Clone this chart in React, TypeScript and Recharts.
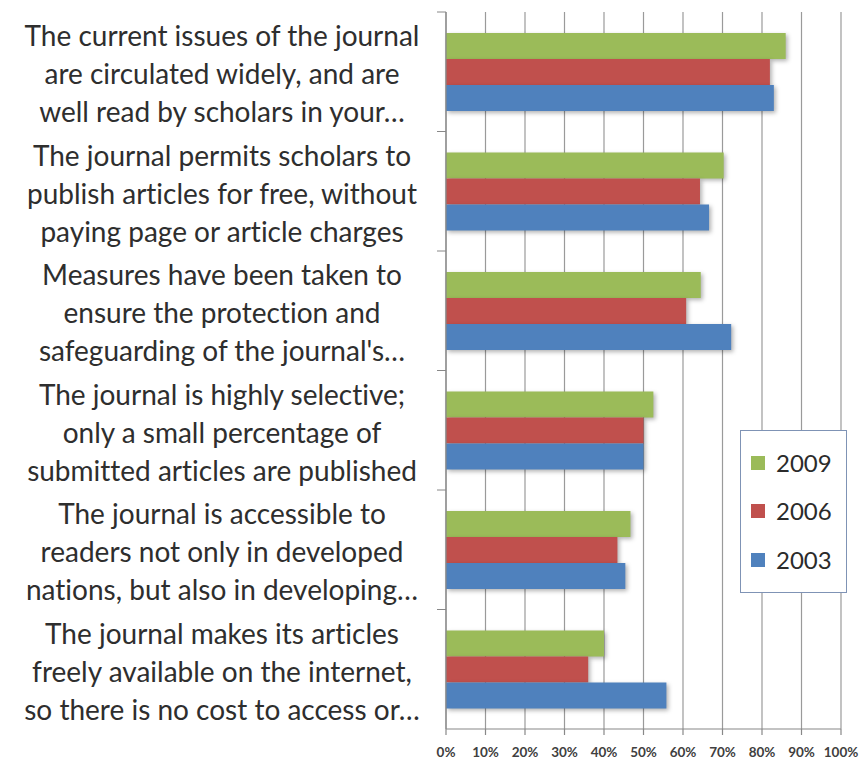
import React from "react";
import { BarChart, Bar, XAxis, YAxis, CartesianGrid, Legend } from "recharts";

const categories = [
  "The current issues of the journal\nare circulated widely, and are\nwell read by scholars in your…",
  "The journal permits scholars to\npublish articles for free, without\npaying page or article charges",
  "Measures have been taken to\nensure the protection and\nsafeguarding of the journal's…",
  "The journal is highly selective;\nonly a small percentage of\nsubmitted articles are published",
  "The journal is accessible to\nreaders not only in developed\nnations, but also in developing…",
  "The journal makes its articles\nfreely available on the internet,\nso there is no cost to access or…",
];

const values2009 = [86, 70.3, 64.5, 52.5, 46.7, 40];
const values2006 = [82, 64.3, 60.8, 50, 43.4, 36];
const values2003 = [83, 66.6, 72.2, 50, 45.4, 55.8];

const seriesNames = ["2009", "2006", "2003"];
const seriesColors = ["#9BBB59", "#C0504D", "#4F81BD"];

const xTicks = [0, 10, 20, 30, 40, 50, 60, 70, 80, 90, 100];

const data = categories.map((name, i) => ({
  name,
  y2009: values2009[i],
  y2006: values2006[i],
  y2003: values2003[i],
}));

const W = 859;
const H = 774;
const PLOT_LEFT = 446;
const PLOT_RIGHT = 841;
const PLOT_TOP = 12;
const PLOT_BOTTOM = 729;
const BAND = (PLOT_BOTTOM - PLOT_TOP) / categories.length;
const FONT = "Lato, 'Open Sans', sans-serif";

const YTick = (props: any) => {
  const { y, payload } = props;
  const lines = String(payload.value).split("\n");
  const cx = PLOT_LEFT - 224;
  return (
    <g>
      <line x1={PLOT_LEFT - 9} x2={PLOT_LEFT} y1={y - BAND / 2} y2={y - BAND / 2} stroke="#888" strokeWidth={1} />
      {lines.map((ln, k) => (
        <text
          key={k}
          x={cx}
          y={y + 1.5 + (k - 1) * 38}
          textAnchor="middle"
          dominantBaseline="central"
          fontFamily={FONT}
          fontSize={28}
          fill="#2e2e2e"
          style={{ fontVariantLigatures: "none" }}
        >
          {ln}
        </text>
      ))}
    </g>
  );
};

const LegendContent = () => (
  <div
    style={{
      width: 107,
      height: 163,
      border: "1.5px solid #7f93b5",
      background: "#fff",
      boxSizing: "border-box",
      display: "flex",
      flexDirection: "column",
      justifyContent: "space-around",
      padding: "8px 0",
      fontFamily: FONT,
    }}
  >
    {seriesNames.map((n, i) => (
      <div key={n} style={{ display: "flex", alignItems: "center", paddingLeft: 10 }}>
        <span style={{ display: "inline-block", width: 14, height: 14, background: seriesColors[i], marginRight: 11 }} />
        <span style={{ fontSize: 24, color: "#2b2b2b", lineHeight: "24px" }}>{n}</span>
      </div>
    ))}
  </div>
);

export default function App() {
  return (
    <div style={{ position: "absolute", left: 0, top: 0, width: W, height: H, background: "#fff" }}>
      <BarChart
        width={W}
        height={H}
        data={data}
        layout="vertical"
        margin={{ top: PLOT_TOP, right: W - PLOT_RIGHT, bottom: 0, left: 0 }}
        barGap={0}
      >
        <CartesianGrid horizontal={false} vertical={true} stroke="#9a9a9a" strokeWidth={1.2} />
        <XAxis
          type="number"
          domain={[0, 100]}
          ticks={xTicks}
          tickFormatter={(v: number) => `${v}%`}
          height={H - PLOT_BOTTOM}
          axisLine={{ stroke: "#888", strokeWidth: 1.2 }}
          tickLine={{ stroke: "#888", strokeWidth: 1.2 }}
          tickSize={6}
          tickMargin={12}
          interval={0}
          tick={{ fontFamily: FONT, fontSize: 13.5, fontWeight: 700, fill: "#404040" }}
        />
        <YAxis
          type="category"
          dataKey="name"
          width={PLOT_LEFT}
          axisLine={{ stroke: "#888", strokeWidth: 1.2 }}
          tickLine={false}
          interval={0}
          tick={<YTick />}
        />
        <Legend
          layout="vertical"
          align="center"
          verticalAlign="middle"
          content={<LegendContent />}
          wrapperStyle={{ position: "absolute", left: 740, top: 430, width: 107, height: 163 }}
        />
        <Bar dataKey="y2009" name="2009" fill={seriesColors[0]} barSize={26} isAnimationActive={false}
          style={{ filter: "drop-shadow(2px 2px 2px rgba(0,0,0,0.3))" }} />
        <Bar dataKey="y2006" name="2006" fill={seriesColors[1]} barSize={26} isAnimationActive={false}
          style={{ filter: "drop-shadow(2px 2px 2px rgba(0,0,0,0.3))" }} />
        <Bar dataKey="y2003" name="2003" fill={seriesColors[2]} barSize={26} isAnimationActive={false}
          style={{ filter: "drop-shadow(2px 2px 2px rgba(0,0,0,0.3))" }} />
      </BarChart>
    </div>
  );
}
